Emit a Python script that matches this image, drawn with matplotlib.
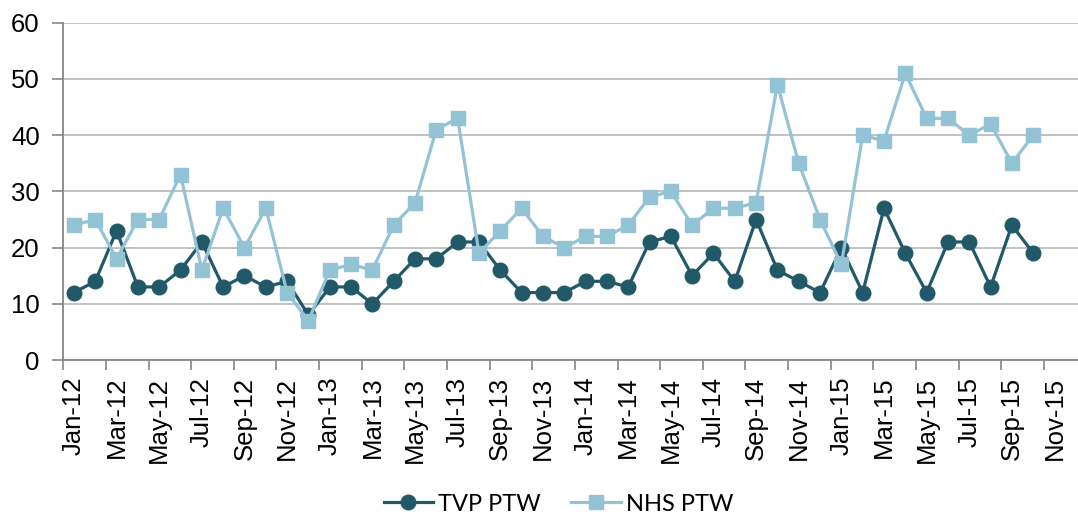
import matplotlib
matplotlib.use("Agg")
import matplotlib.pyplot as plt
from matplotlib.ticker import FixedLocator

# monthly categories Jan-12 .. Dec-15 (axis), data up to Oct-15
months = ["Jan", "Feb", "Mar", "Apr", "May", "Jun",
          "Jul", "Aug", "Sep", "Oct", "Nov", "Dec"]
categories = [f"{m}-{y}" for y in ["12", "13", "14", "15"] for m in months]

tvp_ptw = [12, 14, 23, 13, 13, 16, 21, 13, 15, 13, 14, 8,
           13, 13, 10, 14, 18, 18, 21, 21, 16, 12, 12, 12,
           14, 14, 13, 21, 22, 15, 19, 14, 25, 16, 14, 12,
           20, 12, 27, 19, 12, 21, 21, 13, 24, 19]

nhs_ptw = [24, 25, 18, 25, 25, 33, 16, 27, 20, 27, 12, 7,
           16, 17, 16, 24, 28, 41, 43, 19, 23, 27, 22, 20,
           22, 22, 24, 29, 30, 24, 27, 27, 28, 49, 35, 25,
           17, 40, 39, 51, 43, 43, 40, 42, 35, 40]

dark = "#215968"
light = "#93C3D5"
grid_col = "#BCBCBC"
axis_col = "#868686"

fig = plt.figure(figsize=(10.78, 5.18), dpi=100)
ax = fig.add_axes([0.0587, 0.305, 0.9413, 0.651])

x = list(range(len(tvp_ptw)))
ax.plot(x, tvp_ptw, color=dark, lw=2.3, marker="o", markersize=10.5,
        label="TVP PTW", zorder=3)
ax.plot(x, nhs_ptw, color=light, lw=2.3, marker="s", markersize=10,
        label="NHS PTW", zorder=3)

ax.set_ylim(0, 60)
ax.set_yticks(range(0, 61, 10))
ax.set_xlim(-0.5, 47.1)

# tick marks between categories, labels on every second category
ax.xaxis.set_major_locator(FixedLocator([i - 0.5 for i in range(0, 48, 2)]))
ax.xaxis.set_major_formatter(plt.NullFormatter())
ax.xaxis.set_minor_locator(FixedLocator(list(range(0, 48, 2))))
ax.set_xticklabels(categories[::2], minor=True, rotation=90,
                   fontsize=18.5, family="Liberation Sans")
ax.tick_params(axis="x", which="major", length=7, width=1.2, color=axis_col,
               direction="out")
ax.tick_params(axis="x", which="minor", length=0, pad=12)
ax.tick_params(axis="y", length=8, width=1.2, color=axis_col, pad=9,
               labelsize=18.5)
for lab in ax.get_yticklabels():
    lab.set_family("Liberation Sans")

ax.grid(axis="y", color=grid_col, lw=1.3)
ax.set_axisbelow(True)
for side in ["top", "right"]:
    ax.spines[side].set_visible(False)
for side in ["left", "bottom"]:
    ax.spines[side].set_color(axis_col)
    ax.spines[side].set_linewidth(1.3)

fig.legend(loc="center", bbox_to_anchor=(0.518, 0.027), ncol=2, frameon=False,
           prop={"family": "Lato", "size": 17}, handlelength=2.1,
           handletextpad=0.2, columnspacing=1.3)

fig.savefig("out.png", dpi=100)
